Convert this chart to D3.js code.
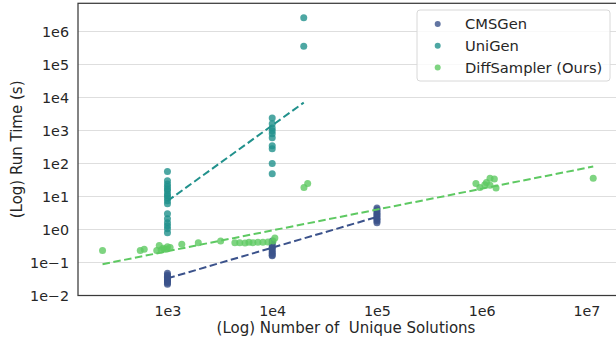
<!DOCTYPE html>
<html>
<head>
<meta charset="utf-8">
<script src="https://cdn.jsdelivr.net/npm/d3@7"></script>
<style>
  html, body { margin: 0; padding: 0; background: #fff; }
  svg { display: block; font-family: 'DejaVu Sans', sans-serif; }
</style>
</head>
<body>
<div id="chart"></div>
<script>
// Series names + colours (viridis picks)
const seriesNames = ["CMSGen", "UniGen", "DiffSampler (Ours)"];
const seriesColors = ["#3b528b", "#21918c", "#5ec962"];

// CMSGen: [solutions, seconds]
const cmsPoints = [
    [1e3, 0.047], [1e3, 0.042], [1e3, 0.038], [1e3, 0.035], [1e3, 0.032],
    [1e3, 0.030], [1e3, 0.028], [1e3, 0.026], [1e3, 0.024], [1e3, 0.022],
    [1e4, 0.45], [1e4, 0.40], [1e4, 0.35], [1e4, 0.30], [1e4, 0.27],
    [1e4, 0.24], [1e4, 0.21], [1e4, 0.19], [1e4, 0.17], [1e4, 0.16],
    [1e5, 4.5], [1e5, 4.0], [1e5, 3.5], [1e5, 3.1], [1e5, 2.8],
    [1e5, 2.5], [1e5, 2.2], [1e5, 2.0], [1e5, 1.8], [1e5, 1.6]
];

// UniGen
const uniPoints = [
    [1e3, 57], [1e3, 30], [1e3, 24], [1e3, 20], [1e3, 17], [1e3, 15],
    [1e3, 12], [1e3, 10.5], [1e3, 9], [1e3, 7.4], [1e3, 6], [1e3, 3],
    [1e3, 2.1], [1e3, 1.6], [1e3, 1.3], [1e3, 1.05], [1e3, 0.8],
    [1e4, 2400], [1e4, 1600], [1e4, 1200], [1e4, 980], [1e4, 800],
    [1e4, 600], [1e4, 345], [1e4, 280], [1e4, 100], [1e4, 49],
    [2e4, 2.6e6], [2e4, 3.6e5]
];

// DiffSampler
const diffPoints = [
    [240, 0.23], [550, 0.23], [600, 0.25],
    [790, 0.23], [835, 0.33], [870, 0.24], [910, 0.27], [940, 0.25],
    [985, 0.255], [1000, 0.30], [1060, 0.285],
    [1370, 0.36], [1970, 0.40], [3220, 0.45],
    [4400, 0.40], [4900, 0.40], [5500, 0.39], [6000, 0.41], [6550, 0.40],
    [7300, 0.41], [8150, 0.41], [9100, 0.42], [10200, 0.45], [10600, 0.55],
    [20100, 18.7], [21800, 24.7],
    [8.8e5, 24.8], [9.6e5, 18.7], [1.07e6, 22.6], [1.11e6, 26.6],
    [1.2e6, 36], [1.32e6, 33.7], [1.2e6, 22], [1.37e6, 18],
    [1.16e7, 36]
];

// fitted trend lines (log-log), endpoints
const cmsFit = [[1e3, 0.033], [1e5, 2.4]];
const uniFit = [[1e3, 7.3], [2e4, 7000]];
const diffFit = [[240, 0.089], [1.16e7, 81]];

const xTicks = [1e3, 1e4, 1e5, 1e6, 1e7];
const yTicks = [1e-2, 1e-1, 1e0, 1e1, 1e2, 1e3, 1e4, 1e5, 1e6];

const width = 616, height = 337;
const plotLeft = 78, plotRight = 620, plotTop = 3.3, plotBottom = 295.5;

const svg = d3.select("#chart").append("svg")
    .attr("width", width)
    .attr("height", height);

const x = d3.scaleLog()
    .domain([Math.pow(10, 2.146), Math.pow(10, 7.32)])
    .range([plotLeft, plotRight]);
const y = d3.scaleLog()
    .domain([1e-2, Math.pow(10, 6.855)])
    .range([plotBottom, plotTop]);

// horizontal grid
svg.append("g")
    .selectAll("line")
    .data(yTicks)
    .enter()
    .append("line")
    .attr("x1", plotLeft).attr("x2", plotRight)
    .attr("y1", d => y(d)).attr("y2", d => y(d))
    .style("stroke", "#dedede")
    .style("stroke-width", 1.2);

// tick labels, formatted like matplotlib's 1e−2
const fmt = d => "1e" + String(Math.round(Math.log10(d))).replace("-", "\u2212");

const yAxis = d3.axisLeft(y).tickValues(yTicks).tickFormat(fmt).tickSize(0).tickPadding(9);
const xAxis = d3.axisBottom(x).tickValues(xTicks).tickFormat(fmt).tickSize(0).tickPadding(10);

const gy = svg.append("g").attr("transform", `translate(${plotLeft},0)`).call(yAxis);
const gx = svg.append("g").attr("transform", `translate(0,${plotBottom})`).call(xAxis);
[gx, gy].forEach(g => {
    g.select(".domain").remove();
    g.selectAll("text")
        .style("font-family", "'DejaVu Sans', sans-serif")
        .style("font-size", "14.3px")
        .style("fill", "#262626");
});

// frame (right spine falls outside the picture)
svg.append("rect")
    .attr("x", plotLeft).attr("y", plotTop)
    .attr("width", plotRight - plotLeft).attr("height", plotBottom - plotTop)
    .style("fill", "none")
    .style("stroke", "#3a3a3a")
    .style("stroke-width", 1.25);

// scatter
const groups = [cmsPoints, uniPoints, diffPoints];
groups.forEach((pts, i) => {
    svg.append("g")
        .selectAll("circle")
        .data(pts)
        .enter()
        .append("circle")
        .attr("cx", d => x(d[0]))
        .attr("cy", d => y(d[1]))
        .attr("r", 3.5)
        .style("fill", seriesColors[i])
        .style("fill-opacity", 0.8);
});

// dashed fits
const line = d3.line().x(d => x(d[0])).y(d => y(d[1]));
[cmsFit, uniFit, diffFit].forEach((f, i) => {
    svg.append("path")
        .attr("d", line(f))
        .style("fill", "none")
        .style("stroke", seriesColors[i])
        .style("stroke-width", 2)
        .style("stroke-dasharray", "7.5,3.5");
});

// axis titles
svg.append("text")
    .attr("transform", `translate(22,${(plotTop + plotBottom) / 2}) rotate(-90)`)
    .attr("text-anchor", "middle")
    .style("font-size", "15px")
    .style("fill", "#262626")
    .text("(Log) Run Time (s)");

svg.append("text")
    .attr("x", 346)
    .attr("y", 333)
    .attr("text-anchor", "middle")
    .style("font-size", "15px")
    .style("fill", "#262626")
    .style("white-space", "pre")
    .text("(Log) Number of  Unique Solutions");

// legend
const legend = svg.append("g").attr("transform", "translate(417,10)");
legend.append("rect")
    .attr("width", 193).attr("height", 71)
    .attr("rx", 3)
    .style("fill", "#fff")
    .style("fill-opacity", 0.8)
    .style("stroke", "#d8d8d8");

seriesNames.forEach((name, i) => {
    const row = legend.append("g").attr("transform", `translate(0,${14 + i * 21.7})`);
    row.append("circle")
        .attr("cx", 20.7).attr("cy", 0)
        .attr("r", 3)
        .style("fill", seriesColors[i])
        .style("fill-opacity", 0.8);
    row.append("text")
        .attr("x", 48).attr("dy", "0.35em")
        .style("font-size", "14.7px")
        .style("fill", "#262626")
        .text(name);
});
</script>
</body>
</html>
